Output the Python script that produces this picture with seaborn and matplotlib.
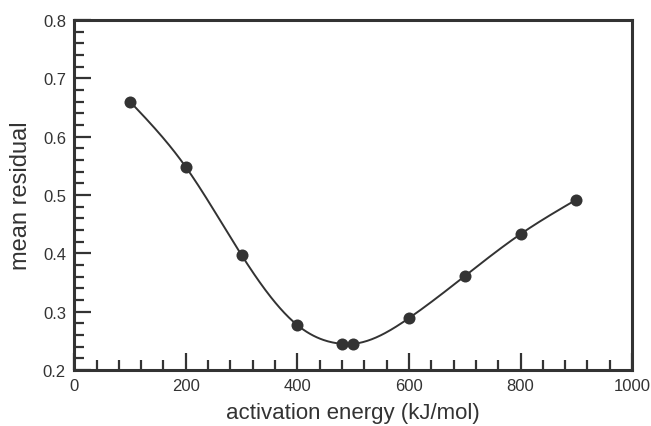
# mean residual vs activation energy
import numpy as np
import matplotlib
matplotlib.use("Agg")
import matplotlib.pyplot as plt
from matplotlib.ticker import MultipleLocator
import seaborn as sns

energy = [100, 200, 300, 400, 480, 500, 600, 700, 800, 900]
residual = [0.660, 0.548, 0.397, 0.277, 0.245, 0.245, 0.289, 0.361, 0.433, 0.492]

INK = "#333333"


def natural_spline(x, y, n=400):
    # natural cubic spline through the measured points, used only for the smooth line
    x = np.asarray(x, float)
    y = np.asarray(y, float)
    h = np.diff(x)
    m = len(x)
    A = np.zeros((m, m))
    b = np.zeros(m)
    A[0, 0] = A[-1, -1] = 1
    for i in range(1, m - 1):
        A[i, i - 1] = h[i - 1]
        A[i, i] = 2 * (h[i - 1] + h[i])
        A[i, i + 1] = h[i]
        b[i] = 6 * ((y[i + 1] - y[i]) / h[i] - (y[i] - y[i - 1]) / h[i - 1])
    M = np.linalg.solve(A, b)
    xs = np.linspace(x[0], x[-1], n)
    idx = np.clip(np.searchsorted(x, xs) - 1, 0, m - 2)
    x0, x1 = x[idx], x[idx + 1]
    hh = x1 - x0
    t0, t1 = x1 - xs, xs - x0
    ys = (M[idx] * t0**3 + M[idx + 1] * t1**3) / (6 * hh) \
        + (y[idx] / hh - M[idx] * hh / 6) * t0 + (y[idx + 1] / hh - M[idx + 1] * hh / 6) * t1
    return xs, ys


sns.set_style("white")
plt.rcParams["font.family"] = ["Liberation Sans", "DejaVu Sans"]

fig = plt.figure(figsize=(6.51, 4.27), dpi=100)
ax = fig.add_axes([0.114, 0.131, 0.857, 0.820])

xs, ys = natural_spline(energy, residual)
sns.lineplot(x=xs, y=ys, ax=ax, color=INK, linewidth=1.4)
sns.scatterplot(x=energy, y=residual, ax=ax, color=INK, s=75, edgecolor=INK, linewidth=0, zorder=3)

ax.set_xlim(0, 1000)
ax.set_ylim(0.2, 0.8)
ax.xaxis.set_major_locator(MultipleLocator(200))
ax.xaxis.set_minor_locator(MultipleLocator(40))
ax.yaxis.set_major_locator(MultipleLocator(0.1))
ax.yaxis.set_minor_locator(MultipleLocator(0.02))
ax.set_yticklabels([f"{v:.1f}" for v in ax.get_yticks()])

ax.tick_params(which="both", direction="in", bottom=True, left=True, top=False, right=False,
               colors=INK, labelsize=12, width=1.6)
ax.tick_params(which="major", length=12, pad=6)
ax.tick_params(which="minor", length=7)
for s in ax.spines.values():
    s.set_color(INK)
    s.set_linewidth(2.2)

ax.set_xlabel("activation energy (kJ/mol)", fontsize=16, color=INK, labelpad=6)
ax.set_ylabel("mean residual", fontsize=17, color=INK, labelpad=8)

fig.savefig("out.png", dpi=100)
